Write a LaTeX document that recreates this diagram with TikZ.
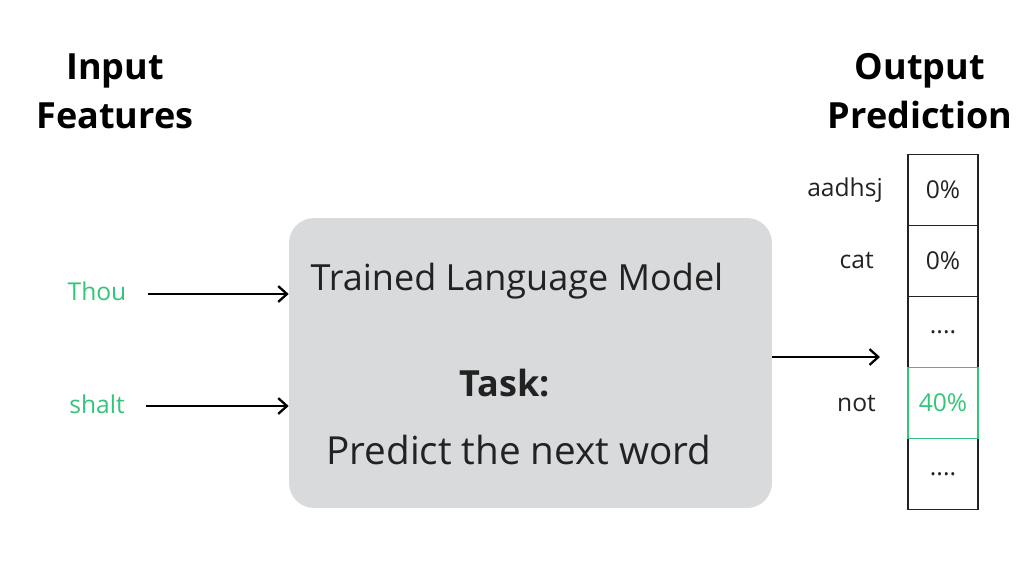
\documentclass[tikz,border=0pt]{standalone}
\usepackage{fontspec}
\setmainfont{Open Sans}
\usetikzlibrary{arrows.meta,positioning}
\definecolor{wordgreen}{RGB}{52,196,122}
\definecolor{modelgray}{RGB}{217,218,220}
\definecolor{inkgray}{RGB}{34,34,34}

\begin{document}
\begin{tikzpicture}[x=0.02cm,y=-0.02cm,
  head/.style={font=\fontsize{20.5}{28}\selectfont\bfseries,align=center,text=black},
  model/.style={fill=modelgray,draw=none,rounded corners=0.5cm,
                minimum width=9.66cm,minimum height=5.8cm},
  modeltxt/.style={font=\fontsize{20.5}{24}\selectfont,text=inkgray},
  word/.style={font=\fontsize{14}{17}\selectfont,inner sep=0pt},
  cell/.style={draw=inkgray,line width=1pt,minimum width=1.4cm,minimum height=1.42cm,
               inner sep=0pt,font=\fontsize{14}{17}\selectfont,text=inkgray},
  flow/.style={-{Straight Barb[length=5pt,width=9pt]},line width=1.3pt,black}
]
\useasboundingbox (0,0) rectangle (1024,576);
% headings
\node[head] (inhead) at (115,91) {Input\\Features};
\node[head] (outhead) at (920,91) {Output\\Prediction};
% the model
\node[model] (lm) at (530.5,363) {};
\node[modeltxt] (lmname) at (517,281) {Trained Language Model};
\node[modeltxt,font=\fontsize{20.5}{24}\selectfont\bfseries] (task) at (505,383) {Task:};
\node[modeltxt,font=\fontsize{22}{26}\selectfont] (taskdesc) at (519,450) {Predict the next word};
% input words
\node[word,text=wordgreen] (thou) at (97,291) {Thou};
\node[word,text=wordgreen] (shalt) at (97,404) {shalt};
\draw[flow] ([xshift=0.42cm]thou.east |- 0,294) -- (lm.west |- 0,294);
\draw[flow] ([xshift=0.42cm]shalt.east |- 0,406) -- (lm.west |- 0,406);
% output probabilities
\node[cell] (p1) at (943,190) {0\%};
\node[cell] (p2) at (943,261) {0\%};
\node[cell] (p3) at (943,332) {....};
\node[cell] (p5) at (943,474) {....};
\node[cell,draw=wordgreen,text=wordgreen] (p4) at (943,403) {40\%};
\node[word,text=inkgray,left=0.48cm of p1] (w1) {aadhsj};
\node[word,text=inkgray,left=0.66cm of p2] (w2) {cat};
\node[word,text=inkgray,left=0.62cm of p4] (w4) {not};
\coordinate (outtip) at (880,357);
\draw[flow] (lm.east |- outtip) -- (outtip);
\end{tikzpicture}
\end{document}
